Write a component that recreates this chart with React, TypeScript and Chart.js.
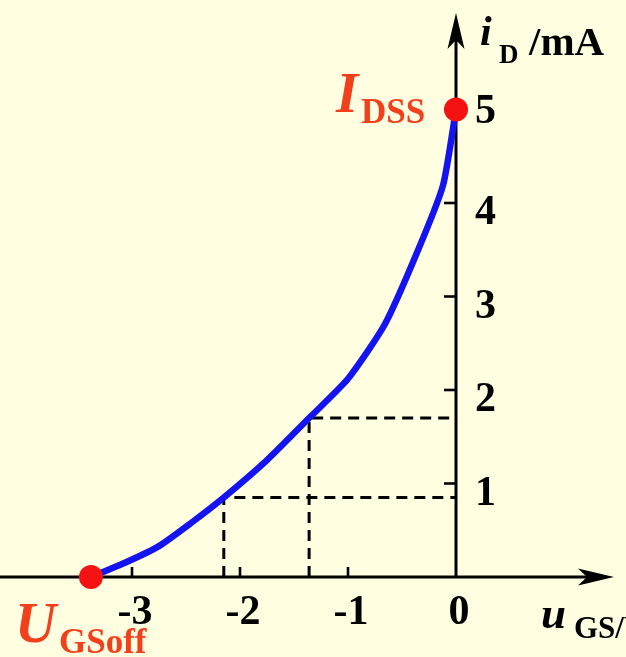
import { useEffect, useRef } from "react";
import { Chart, registerables } from "chart.js";

Chart.register(...registerables);

// Transfer characteristic of a depletion JFET: drain current vs gate-source voltage
const curveU = [-3.38, -3.05, -2.75, -2.45, -2.15, -1.75, -1.36, -1.0, -0.66, -0.35, -0.12, 0];
const curveI = [0, 0.16, 0.33, 0.58, 0.85, 1.25, 1.7, 2.12, 2.7, 3.5, 4.19, 5.0];

// Guide points dropped onto both axes
const guideU = [-2.15, -1.36];
const guideI = [0.85, 1.7];

const pinchOffU = -3.38;
const idss = 5;

const xTicks = [-3, -2, -1, 0];
const yTicks = [1, 2, 3, 4, 5];

const BG = "#FFFEE1";
const SERIF = '"Liberation Serif", "Times New Roman", serif';

function arrowHead(ctx: CanvasRenderingContext2D, tipX: number, tipY: number, dir: "up" | "right") {
  const len = 36;
  const half = 8.5;
  const notch = 27;
  ctx.beginPath();
  if (dir === "up") {
    ctx.moveTo(tipX, tipY);
    ctx.lineTo(tipX + half, tipY + len);
    ctx.lineTo(tipX, tipY + notch);
    ctx.lineTo(tipX - half, tipY + len);
  } else {
    ctx.moveTo(tipX, tipY);
    ctx.lineTo(tipX - len, tipY - half);
    ctx.lineTo(tipX - notch, tipY);
    ctx.lineTo(tipX - len, tipY + half);
  }
  ctx.closePath();
  ctx.fill();
}

export default function App() {
  const ref = useRef<HTMLCanvasElement>(null);

  useEffect(() => {
    document.body.style.margin = "0";
    document.body.style.background = BG;
    const canvas = ref.current;
    if (!canvas) return;

    const axesPlugin = {
      id: "axesWithArrows",
      beforeDraw(chart: any) {
        const ctx = chart.ctx as CanvasRenderingContext2D;
        ctx.save();
        ctx.fillStyle = BG;
        ctx.fillRect(0, 0, chart.width, chart.height);
        ctx.restore();
      },
      beforeDatasetsDraw(chart: any) {
        const ctx = chart.ctx as CanvasRenderingContext2D;
        const xs = chart.scales.x;
        const ys = chart.scales.y;
        const ox = xs.getPixelForValue(0);
        const oy = ys.getPixelForValue(0);
        ctx.save();
        ctx.strokeStyle = "#000";
        ctx.fillStyle = "#000";
        ctx.lineWidth = 3;

        // horizontal axis
        const xTip = 614;
        ctx.beginPath();
        ctx.moveTo(0, oy);
        ctx.lineTo(xTip - 20, oy);
        ctx.stroke();
        arrowHead(ctx, xTip, oy, "right");

        // vertical axis
        const yTip = 13;
        ctx.beginPath();
        ctx.moveTo(ox, oy);
        ctx.lineTo(ox, yTip + 20);
        ctx.stroke();
        arrowHead(ctx, ox, yTip, "up");

        // tick marks
        ctx.lineWidth = 2.6;
        for (const t of xTicks) {
          if (t === 0) continue;
          const px = xs.getPixelForValue(t);
          ctx.beginPath();
          ctx.moveTo(px, oy);
          ctx.lineTo(px, oy - 10);
          ctx.stroke();
        }
        for (const t of yTicks) {
          const py = ys.getPixelForValue(t);
          ctx.beginPath();
          ctx.moveTo(ox, py);
          ctx.lineTo(ox - 12, py);
          ctx.stroke();
        }

        // tick labels
        ctx.font = `bold 42px ${SERIF}`;
        ctx.textBaseline = "alphabetic";
        ctx.textAlign = "center";
        for (const t of xTicks) {
          const px = xs.getPixelForValue(t);
          ctx.fillText(String(t), px + 3, oy + 47);
        }
        ctx.textAlign = "left";
        for (const t of yTicks) {
          const py = ys.getPixelForValue(t);
          ctx.fillText(String(t), ox + 19, py + (t === idss ? 13 : 21));
        }
        ctx.restore();
      },
      afterDraw(chart: any) {
        const ctx = chart.ctx as CanvasRenderingContext2D;
        ctx.save();
        ctx.textBaseline = "alphabetic";
        ctx.textAlign = "left";

        // axis titles
        ctx.fillStyle = "#000";
        ctx.font = `italic bold 42px ${SERIF}`;
        ctx.fillText("i", 480, 45);
        ctx.font = `bold 27px ${SERIF}`;
        ctx.fillText("D", 499, 63);
        ctx.font = `bold 41px ${SERIF}`;
        ctx.fillText("/mA", 529, 55);

        ctx.font = `italic bold 45px ${SERIF}`;
        ctx.fillText("u", 541, 628);
        ctx.font = `bold 31px ${SERIF}`;
        ctx.fillText("GS/V", 574, 638);

        // marked points
        ctx.fillStyle = "#F2401C";
        ctx.font = `italic bold 57px ${SERIF}`;
        ctx.fillText("I", 336, 112);
        ctx.font = `bold 35px ${SERIF}`;
        ctx.fillText("DSS", 361, 123);

        ctx.font = `italic bold 57px ${SERIF}`;
        ctx.fillText("U", 15, 642);
        ctx.font = `bold 35px ${SERIF}`;
        ctx.fillText("GSoff", 59, 653);
        ctx.restore();
      },
    };

    const curve = curveU.map((u, i) => ({ x: u, y: curveI[i] }));
    const guides = guideU.map((u, i) => ({
      data: [
        { x: u, y: 0 },
        { x: u, y: guideI[i] },
        { x: 0, y: guideI[i] },
      ],
      showLine: true,
      borderColor: "#000",
      borderWidth: 3,
      borderDash: [11, 7],
      pointRadius: 0,
      tension: 0,
    }));

    const chart = new Chart(canvas, {
      type: "scatter",
      data: {
        datasets: [
          {
            data: [
              { x: pinchOffU, y: 0 },
              { x: 0, y: idss },
            ],
            showLine: false,
            pointRadius: 12,
            pointBackgroundColor: "#F41212",
            pointBorderWidth: 0,
            backgroundColor: "#F41212",
            borderWidth: 0,
          },
          {
            data: curve,
            showLine: true,
            borderColor: "#1414F0",
            borderWidth: 6.5,
            pointRadius: 0,
            tension: 0.2,
            borderJoinStyle: "round",
            borderCapStyle: "round",
          },
          ...guides,
        ] as any,
      },
      options: {
        responsive: false,
        animation: false,
        devicePixelRatio: 1,
        events: [],
        layout: { padding: 0, autoPadding: false },
        plugins: {
          legend: { display: false },
          tooltip: { enabled: false },
        },
        scales: {
          x: { type: "linear", min: -456 / 108, max: 170 / 108, display: false },
          y: { type: "linear", min: -80 / 93.5, max: 577 / 93.5, display: false },
        },
      },
      plugins: [axesPlugin],
    });

    return () => chart.destroy();
  }, []);

  return <canvas ref={ref} width={626} height={657} style={{ display: "block" }} />;
}
